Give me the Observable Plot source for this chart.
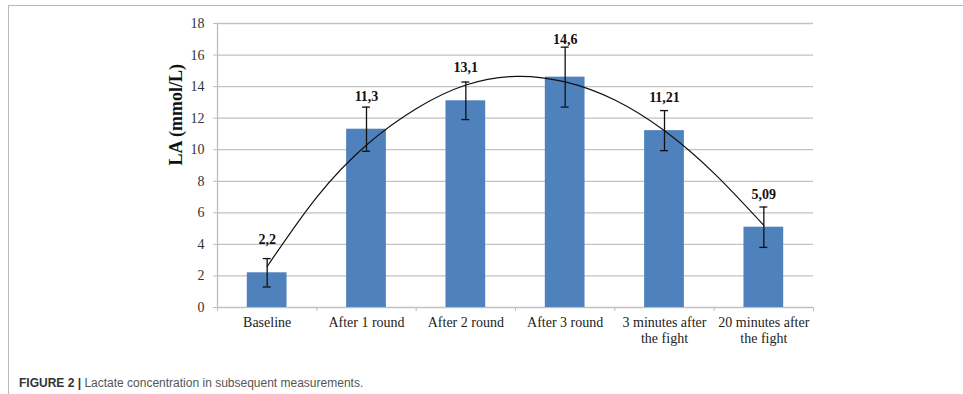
<!DOCTYPE html>
<html><head><meta charset="utf-8">
<script src="https://cdn.jsdelivr.net/npm/d3@7"></script>
<script src="https://cdn.jsdelivr.net/npm/@observablehq/plot@0.6"></script>
<style>
html,body{margin:0;padding:0;background:#fff;width:963px;height:394px;overflow:hidden;position:relative}
#frame{position:absolute;left:8px;top:5px;width:960px;height:400px;border-left:1.5px solid #b8b8b8;border-top:1.5px solid #b8b8b8}
#chart{position:absolute;left:0;top:0}
#chart svg text{font-family:"Liberation Serif","Times New Roman",serif}
#caption{position:absolute;left:19px;top:377px;font:12px "Liberation Sans",Arial,sans-serif;line-height:1;color:#555;white-space:nowrap}
#caption b{color:#333}
</style></head><body>
<div id="frame"></div><div id="chart"></div>
<div id="caption"><b>FIGURE 2 |</b> Lactate concentration in subsequent measurements.</div>
<script>
const categories = ["Baseline", "After 1 round", "After 2 round", "After 3 round", "3 minutes after\nthe fight", "20 minutes after\nthe fight"];
const values = [2.2, 11.3, 13.1, 14.6, 11.21, 5.09];
const errors = [0.9, 1.4, 1.19, 1.9, 1.27, 1.28];
const valueLabels = ["2,2", "11,3", "13,1", "14,6", "11,21", "5,09"];
const yTicks = [0, 2, 4, 6, 8, 10, 12, 14, 16, 18];
const yTitle = "LA (mmol/L)";
// trend curve (position in category units, value)
const trendPos = [0.5, 1.0, 1.5, 2.0, 2.5, 3.0, 3.5, 4.0, 4.5, 5.0, 5.5];
const trendVal = [2.6, 7.0, 10.3, 12.6, 14.1, 14.65, 14.3, 13.15, 11.2, 8.5, 5.2];

const idx = d3.range(categories.length);
const serif = "Liberation Serif";
const trend = trendPos.map((p, j) => ({p, v: trendVal[j]}));

const chart = Plot.plot({
  width: 963, height: 360,
  marginTop: 23, marginBottom: 53, marginLeft: 217, marginRight: 150,
  x: {type: "linear", domain: [0, categories.length], axis: null},
  y: {domain: [0, 18], axis: null},
  style: {fontFamily: serif, background: "transparent"},
  marks: [
    Plot.ruleY(yTicks, {stroke: "#c2c2c2", strokeWidth: 1.3}),
    Plot.ruleX([0], {stroke: "#bdbdbd", strokeWidth: 1.3}),
    Plot.axisY({ticks: yTicks, tickSize: 4, tickPadding: 9, stroke: "#bdbdbd", fill: "#333", fontSize: 14, fontFamily: serif, label: null, tickFormat: d => String(d)}),
    Plot.axisX({ticks: d3.range(0, categories.length + 1), tickSize: 4, tickFormat: () => "", stroke: "#bdbdbd", label: null}),
    Plot.rectY(idx, {x1: i => i + 0.3, x2: i => i + 0.7, y: i => values[i], fill: "#4f81bd"}),
    Plot.ruleX(idx, {x: i => i + 0.5, y1: i => values[i] - errors[i], y2: i => values[i] + errors[i], stroke: "#111", strokeWidth: 1.3}),
    Plot.ruleY(idx, {y: i => values[i] + errors[i], x1: i => i + 0.46, x2: i => i + 0.54, stroke: "#111", strokeWidth: 1.3}),
    Plot.ruleY(idx, {y: i => values[i] - errors[i], x1: i => i + 0.46, x2: i => i + 0.54, stroke: "#111", strokeWidth: 1.3}),
    Plot.line(trend, {x: "p", y: "v", curve: "natural", stroke: "#111", strokeWidth: 1.2}),
    Plot.text(idx, {x: i => i + 0.5, y: i => Math.max(values[i] + 2.09, values[i] + errors[i] + 0.5), text: i => valueLabels[i], fontWeight: "bold", fontSize: 14, fontFamily: serif, fill: "#111"}),
    Plot.text(categories, {x: (d, i) => i + 0.5, y: 0, text: d => d, lineAnchor: "top", dy: 8, fontSize: 14, fontFamily: serif, lineHeight: 1.15, fill: "#222"}),
    Plot.text([yTitle], {frameAnchor: "left", dx: -41, rotate: -90, text: d => d, fontSize: 18, fontWeight: "bold", fontFamily: serif, fill: "#111"})
  ]
});
document.getElementById("chart").appendChild(chart);
</script>
</body></html>
